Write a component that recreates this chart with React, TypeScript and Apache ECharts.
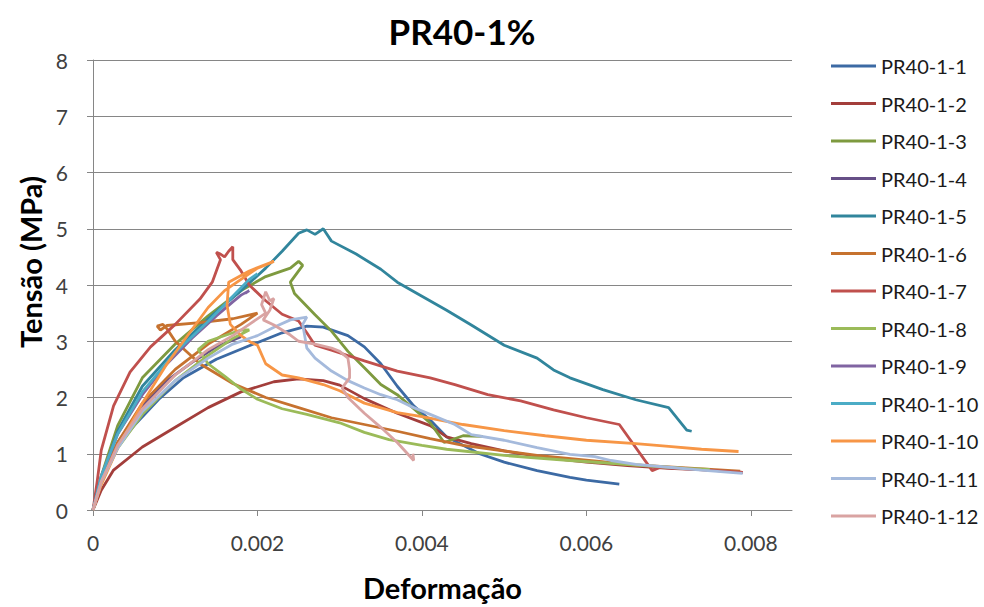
import React, { useEffect, useRef } from "react";
import * as echarts from "echarts";

const seriesNames = [
  "PR40-1-1", "PR40-1-2", "PR40-1-3", "PR40-1-4", "PR40-1-5", "PR40-1-6", "PR40-1-7",
  "PR40-1-8", "PR40-1-9", "PR40-1-10", "PR40-1-10", "PR40-1-11", "PR40-1-12",
];
const seriesColors = [
  "#3C6AA4", "#A33E3B", "#7E9A3F", "#664F87", "#31859C", "#C6722F", "#C0504D",
  "#9BBB59", "#8064A2", "#4BACC6", "#F79646", "#A5BADC", "#D9A3A2",
];

const xTickValues = [0, 0.002, 0.004, 0.006, 0.008];

const s1 = [[0,0],[0.0001,0.55],[0.00025,1.06],[0.0005,1.5],[0.0008,1.97],[0.0011,2.35],[0.0015,2.68],[0.0019,2.92],[0.0023,3.15],[0.0026,3.27],[0.0028,3.25],[0.0031,3.1],[0.0033,2.9],[0.0035,2.6],[0.0037,2.2],[0.0039,1.85],[0.0041,1.6],[0.0043,1.3],[0.0047,1.0],[0.005,0.85],[0.0054,0.7],[0.0058,0.58],[0.006,0.53],[0.0064,0.46]];
const s2 = [[0,0],[0.0001,0.35],[0.00025,0.71],[0.0006,1.12],[0.001,1.47],[0.0014,1.82],[0.0018,2.1],[0.0022,2.28],[0.0025,2.33],[0.0028,2.3],[0.003,2.22],[0.0033,1.98],[0.0037,1.72],[0.0041,1.5],[0.0043,1.3],[0.0046,1.18],[0.005,1.05],[0.0055,0.93],[0.006,0.85],[0.0065,0.79],[0.007,0.74],[0.0075,0.71],[0.0079,0.67]];
const s3 = [[0,0],[0.0001,0.6],[0.0003,1.5],[0.0006,2.35],[0.001,2.95],[0.0014,3.45],[0.0018,3.9],[0.0021,4.15],[0.0024,4.3],[0.0025,4.42],[0.00255,4.35],[0.0024,4.05],[0.00245,3.85],[0.0027,3.47],[0.0029,3.18],[0.0031,2.82],[0.0033,2.53],[0.0035,2.23],[0.0037,2.05],[0.0039,1.8],[0.0041,1.55],[0.00427,1.2],[0.0045,1.32],[0.00474,1.31]];
const s4 = [[0,0],[0.0001,0.55],[0.0003,1.2],[0.0006,1.85],[0.0009,2.3],[0.0012,2.62],[0.0015,2.9],[0.0018,3.08]];
const s5 = [[0,0],[0.0001,0.55],[0.0003,1.4],[0.0006,2.2],[0.001,2.85],[0.0014,3.4],[0.0018,3.9],[0.0021,4.3],[0.0023,4.6],[0.0025,4.92],[0.0026,4.98],[0.0027,4.9],[0.0028,5.0],[0.0029,4.78],[0.0032,4.55],[0.0035,4.28],[0.0037,4.05],[0.004,3.8],[0.0043,3.55],[0.0046,3.29],[0.005,2.93],[0.0054,2.7],[0.0056,2.49],[0.0058,2.35],[0.0062,2.14],[0.0066,1.96],[0.007,1.82],[0.00722,1.42],[0.00728,1.4]];
const s6 = [[0,0],[0.0001,0.5],[0.0003,1.2],[0.0006,1.9],[0.001,2.5],[0.0014,2.95],[0.0018,3.3],[0.002,3.5],[0.0017,3.4],[0.0013,3.33],[0.0009,3.28],[0.00082,3.2],[0.00078,3.27],[0.00085,3.3],[0.0009,3.22],[0.001,3.0],[0.0013,2.6],[0.0017,2.25],[0.0021,2.0],[0.0025,1.82],[0.0029,1.64],[0.0033,1.52],[0.0037,1.4],[0.0041,1.27],[0.0045,1.15],[0.0054,0.97],[0.0066,0.8],[0.00787,0.69]];
const s7 = [[0,0],[0.00005,0.5],[0.0001,1.06],[0.00025,1.85],[0.00045,2.45],[0.0007,2.9],[0.001,3.3],[0.0013,3.75],[0.00145,4.05],[0.0015,4.25],[0.00155,4.45],[0.0015,4.58],[0.00155,4.55],[0.0016,4.5],[0.00165,4.6],[0.0017,4.68],[0.0017,4.45],[0.0018,4.25],[0.0019,4.0],[0.0021,3.72],[0.0023,3.48],[0.0025,3.36],[0.0026,3.15],[0.0027,2.93],[0.0029,2.84],[0.0033,2.65],[0.0037,2.47],[0.0041,2.35],[0.0044,2.23],[0.0048,2.05],[0.0052,1.94],[0.0056,1.78],[0.006,1.64],[0.0064,1.52],[0.0068,0.7],[0.0069,0.76],[0.0075,0.71],[0.0079,0.67]];
const s8 = [[0,0],[0.0001,0.5],[0.0003,1.1],[0.0006,1.7],[0.001,2.3],[0.0014,2.75],[0.0017,3.05],[0.0019,3.2],[0.0018,3.2],[0.0014,3.0],[0.00128,2.85],[0.0014,2.6],[0.0016,2.38],[0.0018,2.15],[0.002,1.97],[0.0023,1.8],[0.0026,1.7],[0.003,1.55],[0.0033,1.38],[0.0036,1.25],[0.004,1.15],[0.0043,1.08],[0.005,0.97],[0.0058,0.88],[0.0066,0.8],[0.0072,0.74],[0.0075,0.72]];
const s9 = [[0,0],[0.0001,0.6],[0.0003,1.35],[0.0006,2.05],[0.0009,2.6],[0.0012,3.05],[0.0015,3.45],[0.0017,3.7],[0.0018,3.82],[0.0019,3.9],[0.00185,3.85]];
const s10 = [[0,0],[0.0001,0.6],[0.0003,1.35],[0.0006,2.1],[0.001,2.8],[0.0014,3.35],[0.0017,3.8],[0.0019,4.1],[0.002,4.2]];
const s10b = [[0,0],[0.0001,0.45],[0.0003,1.1],[0.0006,1.9],[0.0009,2.6],[0.0012,3.2],[0.0014,3.6],[0.0016,3.9],[0.0018,4.1],[0.002,4.3],[0.0022,4.42],[0.0019,4.25],[0.00165,4.05],[0.00163,3.64],[0.00167,3.3],[0.0018,3.1],[0.00192,2.98],[0.002,2.93],[0.0021,2.6],[0.0023,2.4],[0.0025,2.35],[0.0028,2.23],[0.003,2.12],[0.0033,1.9],[0.0037,1.73],[0.004,1.66],[0.0045,1.52],[0.005,1.41],[0.0055,1.32],[0.006,1.24],[0.0066,1.18],[0.007,1.13],[0.0074,1.08],[0.00785,1.04]];
const s11 = [[0,0],[0.0001,0.5],[0.0003,1.1],[0.0006,1.75],[0.001,2.3],[0.0014,2.7],[0.0017,2.95],[0.002,3.1],[0.0022,3.25],[0.0024,3.38],[0.0026,3.43],[0.00255,3.3],[0.0026,2.88],[0.0027,2.7],[0.0029,2.47],[0.0031,2.3],[0.0033,2.17],[0.0035,2.05],[0.0037,1.96],[0.0039,1.82],[0.0041,1.7],[0.0044,1.52],[0.0046,1.34],[0.005,1.24],[0.0054,1.11],[0.0058,0.99],[0.0061,0.95],[0.0063,0.88],[0.0066,0.81],[0.007,0.76],[0.0074,0.71],[0.0079,0.65]];
const s12 = [[0,0],[0.0001,0.5],[0.0003,1.15],[0.0006,1.8],[0.001,2.4],[0.0014,2.85],[0.0017,3.1],[0.0019,3.3],[0.0021,3.5],[0.00205,3.65],[0.0021,3.88],[0.00215,3.72],[0.0022,3.76],[0.00215,3.55],[0.00207,3.38],[0.0022,3.29],[0.0024,3.11],[0.0025,3.0],[0.0027,2.95],[0.0029,2.88],[0.003,2.82],[0.0031,2.7],[0.00312,2.5],[0.00312,2.35],[0.00303,2.17],[0.0031,2.0],[0.0033,1.72],[0.0035,1.47],[0.0037,1.2],[0.0039,0.88],[0.00389,1.0]];

const allSeries = [s1, s2, s3, s4, s5, s6, s7, s8, s9, s10, s10b, s11, s12];

const FONT = "Lato, 'Open Sans', sans-serif";

export default function App() {
  const ref = useRef<HTMLDivElement>(null);
  useEffect(() => {
    if (!ref.current) return;
    const chart = echarts.init(ref.current, null, { renderer: "svg" });
    const legendData = seriesNames.map((n, i) => ({ name: n + (i === 10 ? " " : ""), itemStyle: { color: seriesColors[i] } }));
    chart.setOption({
      animation: false,
      backgroundColor: "#ffffff",
      textStyle: { fontFamily: FONT },
      title: {
        text: "PR40-1%",
        left: 457,
        top: 8,
        textAlign: "center",
        textStyle: { fontFamily: FONT, fontSize: 35, fontWeight: "bold", color: "#000" },
      },
      grid: { left: 93, right: 192, top: 60, bottom: 94, containLabel: false },
      legend: {
        orient: "vertical",
        left: 826,
        top: 51,
        icon: "rect",
        itemWidth: 45,
        itemHeight: 3,
        itemGap: 17.5,
        textStyle: { fontFamily: FONT, fontSize: 20, color: "#1a1a1a", lineHeight: 20, padding: [0, 0, 0, 0] },
        data: legendData,
      },
      xAxis: {
        type: "value",
        min: 0,
        max: 0.0085,
        interval: 0.002,
        name: "Deformação",
        nameLocation: "middle",
        nameGap: 63,
        nameTextStyle: { fontFamily: FONT, fontSize: 29, fontWeight: "bold", color: "#000" },
        axisLine: { show: true, lineStyle: { color: "#868686", width: 1 } },
        axisTick: { show: true, length: 6, inside: false, customValues: xTickValues, lineStyle: { color: "#868686" } },
        axisLabel: {
          customValues: xTickValues,
          margin: 22,
          fontSize: 21,
          color: "#404040",
          fontFamily: FONT,
          formatter: (v: number) => (v === 0 ? "0" : v.toFixed(3)),
        },
        splitLine: { show: false },
      },
      yAxis: {
        type: "value",
        min: 0,
        max: 8,
        interval: 1,
        axisLine: { show: true, lineStyle: { color: "#868686", width: 1 } },
        axisTick: { show: true, length: 6, inside: false, lineStyle: { color: "#868686" } },
        axisLabel: { margin: 25, fontSize: 21, color: "#404040", fontFamily: FONT },
        splitLine: { show: true, lineStyle: { color: "#868686", width: 1 } },
      },
      graphic: [
        {
          type: "text",
          x: 30,
          y: 262,
          rotation: Math.PI / 2,
          style: {
            text: "Tensão (MPa)",
            fontFamily: FONT,
            fontSize: 29,
            fontWeight: "bold",
            fill: "#000",
            textAlign: "center",
            textVerticalAlign: "middle",
          },
        },
      ],
      series: allSeries.map((d, i) => ({
        name: seriesNames[i] + (i === 10 ? " " : ""),
        type: "line",
        data: d,
        showSymbol: false,
        symbol: "none",
        smooth: false,
        color: seriesColors[i],
        lineStyle: { color: seriesColors[i], width: 2.8 },
        emphasis: { disabled: true },
      })),
    });
    return () => chart.dispose();
  }, []);
  return <div ref={ref} style={{ width: 984, height: 607, position: "absolute", left: 0, top: 0 }} />;
}
